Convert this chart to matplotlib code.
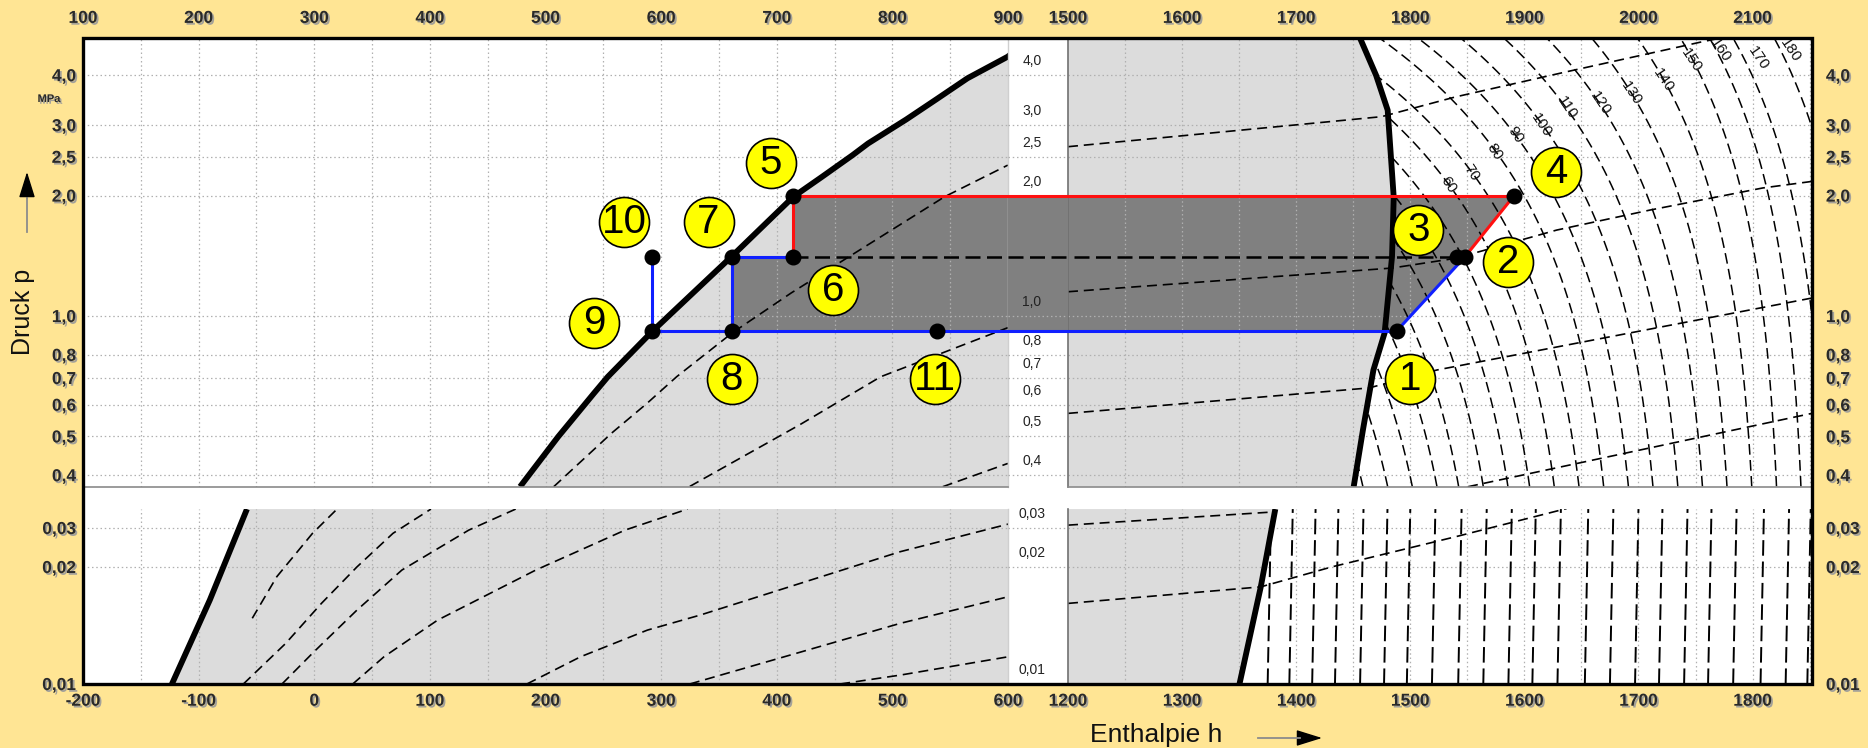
import numpy as np
import matplotlib
matplotlib.use("Agg")
import matplotlib.pyplot as plt
import matplotlib.patheffects as pe
from matplotlib.patches import Polygon, Rectangle, FancyArrowPatch

# ------------------------------------------------------------------
# data: ammonia log p-h diagram with a two-stage refrigeration cycle
# h in kJ/kg (lower scale), p in MPa
# ------------------------------------------------------------------
state_ids = ["1", "2", "3", "4", "5", "6", "7", "8", "9", "10", "11"]
state_h = [1488, 1548, 1541, 1591, 414, 414, 361, 361, 292.5, 292.5, 538.6]
state_p = [0.917, 1.407, 1.407, 2.0, 2.0, 1.407, 1.407, 0.917, 0.917, 1.407, 0.917]
label_h = [1500, 1586, 1507, 1628, 395, 449, 341, 361, 242, 268, 537]
label_p = [0.697, 1.367, 1.64, 2.295, 2.406, 1.161, 1.72, 0.697, 0.959, 1.72, 0.697]

# saturated liquid / vapour lines, upper and lower pressure range
liq_hi_h = [178, 210.9, 241.9, 253.9, 292.6, 360.8, 414.4, 439.3, 465.7, 479, 512,
            538.6, 565, 599.8, 610]
liq_hi_p = [0.3744, 0.499, 0.641, 0.705, 0.917, 1.407, 1.987, 2.23, 2.526, 2.70, 3.10,
            3.49, 3.93, 4.45, 4.7]
vap_hi_h = [1450.4, 1458.5, 1467.7, 1477.5, 1484, 1485.5, 1480.2, 1470, 1455.8]
vap_hi_p = [0.3744, 0.519, 0.733, 0.907, 1.407, 1.98, 3.27, 4.0, 4.963]
liq_lo_h = [-123.1, -90.3, -58.2]
liq_lo_p = [0.01, 0.01645, 0.0365]
vap_lo_h = [1350.3, 1369, 1381.7]
vap_lo_p = [0.01, 0.0178, 0.0365]

# lines of constant vapour quality / entropy
qual_top_left = [
    ([207.1, 257.3, 288.1, 313.4, 361.4, 412.5, 462.5, 545.2, 599.8],
     [0.3744, 0.510, 0.606, 0.705, 0.907, 1.142, 1.407, 1.987, 2.383]),
    ([324.8, 420, 489.9, 599.8], [0.375, 0.535, 0.705, 0.935]),
    ([543.6, 599.8], [0.3744, 0.428]),
]
qual_top_right = [
    ([1200, 1474.8, 1539.7, 1637.1, 1756.1, 1777.6], [2.65, 3.15, 3.53, 4.08, 4.85, 4.99]),
    ([1200, 1484, 1539.7, 1628.3, 1710, 1809, 1852], [1.15, 1.318, 1.394, 1.64, 1.84, 2.09, 2.17]),
    ([1200, 1463.8, 1523.4, 1852], [0.571, 0.661, 0.733, 1.109]),
    ([1550.6, 1852], [0.3744, 0.571]),
]
qual_bottom_left = [
    ([-53.6, -32.4, -1.5, 19.7], [0.01476, 0.01888, 0.02838, 0.0365]),
    ([-61.3, -24.7, 6.2, 37, 68.1, 100.9], [0.01, 0.01272, 0.01612, 0.02003, 0.02838, 0.0365]),
    ([-27.9, -1.5, 37, 75.8, 133.7, 174.2], [0.01, 0.012, 0.0155, 0.01964, 0.02936, 0.0365]),
    ([33.3, 60.3, 106.7, 191.6, 268.9, 322.9], [0.01, 0.01175, 0.0146, 0.01964, 0.02936, 0.0365]),
    ([183.9, 230.3, 288.1, 333.7, 506.7, 600.2], [0.01, 0.01175, 0.01376, 0.01504, 0.02344, 0.03124]),
    ([324.8, 506.7, 600.2], [0.01, 0.01432, 0.01677]),
    ([454.8, 506.7, 600.2], [0.01, 0.01054, 0.01175]),
]
qual_bottom_right = [
    ([1200, 1382.7], [0.0309, 0.0355]),
    ([1200, 1369, 1431.4, 1539.7, 1637], [0.01612, 0.01778, 0.02003, 0.02739, 0.0367]),
]

# isotherms in the superheated region (deg C): h at the lower and the upper edge
iso_T = [-20, -10, 0, 10, 20, 30, 40, 50, 60, 70, 80, 90, 100, 110, 120,
         130, 140, 150, 160, 170, 180]
iso_h_low = [1458.5, 1480.2, 1501.8, 1523.4, 1542.4, 1564, 1585.6, 1604.6, 1626.2,
             1647.9, 1669.5, 1691.2, 1712.7, 1734.5, 1756.1, 1777.6, 1799.3, 1821,
             1842.4, 1863, 1895]
iso_h_high = [1036.3, 1078.2, 1119.5, 1169.6, 1212.4, 1258.4, 1304.3, 1343, 1384.8,
              1422.6, 1472.6, 1506.3, 1543.8, 1581.7, 1619.3, 1658.7, 1698.8, 1736.6,
              1762.1, 1782.7, 1818.8]
iso_label_T = [60, 70, 80, 90, 100, 110, 120, 130, 140, 150, 160, 170, 180]
iso_label_h = [1533.3, 1553.8, 1574.2, 1591.8, 1615.2, 1637.1, 1666.3, 1694, 1721.7,
               1746.6, 1771.4, 1805, 1832.8]
iso_label_p = [2.127, 2.282, 2.575, 2.835, 3.0, 3.306, 3.402, 3.6, 3.89, 4.365,
               4.62, 4.41, 4.62]
# isotherms at low pressure (nearly vertical)
iso_lo_h = [1375, 1394, 1414, 1434, 1456, 1477, 1497, 1519, 1542, 1564, 1586, 1607,
            1629, 1653, 1675, 1697, 1718, 1740, 1761, 1783, 1807, 1829, 1848]

# axis ticks
p_ticks_hi = [0.4, 0.5, 0.6, 0.7, 0.8, 1.0, 2.0, 2.5, 3.0, 4.0]
p_ticks_lo = [0.01, 0.02, 0.03]
h_ticks_left = [-200, -100, 0, 100, 200, 300, 400, 500, 600]
h_ticks_right = [1200, 1300, 1400, 1500, 1600, 1700, 1800]
H_TOP_SHIFT = 300   # upper enthalpy scale is offset against the lower one

# ------------------------------------------------------------------
BG = "#FFE594"
LIGHT = "#DCDCDC"
DARK = "#808080"
GRIDC = "#B0B0B0"

W, H = 1868, 748
fig = plt.figure(figsize=(W / 100, H / 100), dpi=100, facecolor=BG)


def fx(px):
    return px / W


def fy(py):
    return 1 - py / H


X0, XB0, XB1, X1 = 83, 1008, 1068, 1812
Y0, YT1, YB0, Y1 = 37.7, 486.7, 509, 684

P_HI = (0.3744, 4.963)
P_LO = (0.01, 0.03653)
H_LEFT = (-200, 600)
H_RIGHT = (1200, 1852.1)

# lower pressure range uses a piecewise logarithmic axis
_lx = np.array([-3.0, -2.0, np.log10(0.02), np.log10(0.03), -0.5])
_ly = np.array([-389.0, 0.0, 117.0, 156.0, 156.0 + 222.0 * (-0.5 - np.log10(0.03))])


def lo_forward(p):
    p = np.asarray(p, dtype=float)
    return np.interp(np.log10(np.clip(p, 1e-9, None)), _lx, _ly)


def lo_inverse(y):
    return 10 ** np.interp(np.asarray(y, dtype=float), _ly, _lx)


# white plotting area
fig.add_artist(Rectangle((fx(X0), fy(Y1)), fx(X1 - X0), (Y1 - Y0) / H,
                         transform=fig.transFigure, facecolor="white",
                         edgecolor="none", zorder=-5))


def make_ax(x0, x1, y0, y1):
    ax = fig.add_axes([fx(x0), fy(y1), fx(x1 - x0), (y1 - y0) / H])
    ax.set_facecolor("none")
    for s in ax.spines.values():
        s.set_visible(False)
    ax.tick_params(length=0)
    return ax


ax_tl = make_ax(X0, XB0, Y0, YT1)
ax_tr = make_ax(XB1, X1, Y0, YT1)
ax_bl = make_ax(X0, XB0, YB0, Y1)
ax_br = make_ax(XB1, X1, YB0, Y1)
band_t = make_ax(XB0, XB1, Y0, YT1)
band_b = make_ax(XB0, XB1, YB0, Y1)

for ax in (ax_tl, ax_tr, band_t):
    ax.set_yscale("log")
    ax.set_ylim(*P_HI)
for ax in (ax_bl, ax_br, band_b):
    ax.set_yscale("function", functions=(lo_forward, lo_inverse))
    ax.set_ylim(*P_LO)
for ax in (ax_tl, ax_bl):
    ax.set_xlim(*H_LEFT)
for ax in (ax_tr, ax_br):
    ax.set_xlim(*H_RIGHT)
for ax in (band_t, band_b):
    ax.set_xlim(0, 1)
    ax.set_xticks([])
    ax.set_yticks([])
    ax.yaxis.set_minor_locator(matplotlib.ticker.NullLocator())

# panel borders at the breaks
for ax in (ax_tl, ax_tr):
    ax.spines["bottom"].set_visible(True)
    ax.spines["bottom"].set_color("#8a8a8a")
    ax.spines["bottom"].set_linewidth(1.2)
for ax in (ax_tl, ax_bl):
    ax.spines["right"].set_visible(True)
    ax.spines["right"].set_color("#cfcfcf")
    ax.spines["right"].set_linewidth(1.0)
for ax in (ax_tr, ax_br):
    ax.spines["left"].set_visible(True)
    ax.spines["left"].set_color("#707070")
    ax.spines["left"].set_linewidth(1.2)

# ---- tick labels ----------------------------------------------------
NARROW = ["Liberation Sans Narrow", "Liberation Sans", "DejaVu Sans"]
SANS = ["Liberation Sans", "DejaVu Sans"]
shadow = [pe.SimplePatchShadow(offset=(1.3, -1.3), shadow_rgbFace="#9a9a9a", alpha=0.9),
          pe.Normal()]


def fmt(v):
    if v < 0.1:
        return f"{v:.2f}".replace(".", ",")
    return f"{v:.1f}".replace(".", ",")


def style_labels(labels, size=12.5):
    for t in labels:
        t.set_fontfamily(NARROW)
        t.set_fontweight("bold")
        t.set_fontsize(size)
        t.set_color("#2a2a2a")
        t.set_path_effects(shadow)


for ax, ticks in ((ax_tl, p_ticks_hi), (ax_bl, p_ticks_lo), (ax_tr, p_ticks_hi), (ax_br, p_ticks_lo)):
    ax.set_yticks(ticks)
    ax.set_yticklabels([fmt(v) for v in ticks])
    ax.yaxis.set_minor_locator(matplotlib.ticker.NullLocator())
for ax in (ax_tl, ax_bl):
    ax.tick_params(axis="y", left=False, labelleft=True, pad=5)
    style_labels(ax.get_yticklabels())
for ax in (ax_tr, ax_br):
    ax.tick_params(axis="y", left=False, labelleft=False, labelright=True, pad=10)
    style_labels(ax.get_yticklabels())

ax_bl.set_xticks(h_ticks_left)
ax_bl.set_xticklabels([str(v) for v in h_ticks_left])
ax_br.set_xticks(h_ticks_right)
ax_br.set_xticklabels([str(v) for v in h_ticks_right])
for ax in (ax_bl, ax_br):
    ax.tick_params(axis="x", length=0, pad=7)
    style_labels(ax.get_xticklabels())
for ax in (ax_tl, ax_tr):
    ax.set_xticks([])

for ax, ticks in ((ax_tl, h_ticks_left), (ax_tr, h_ticks_right)):
    sec = ax.secondary_xaxis("top", functions=(lambda h: h + H_TOP_SHIFT,
                                              lambda h: h - H_TOP_SHIFT))
    top = [v + H_TOP_SHIFT for v in ticks]
    sec.set_xticks(top)
    sec.set_xticklabels([str(v) for v in top])
    sec.tick_params(length=0, pad=8.5)
    for s in sec.spines.values():
        s.set_visible(False)
    style_labels(sec.get_xticklabels())

# ---- grid -------------------------------------------------------------
grid_kw = dict(color=GRIDC, lw=0.9, ls=(0, (1.2, 2.2)), zorder=0.6)
for ax, lim, ticks in ((ax_tl, H_LEFT, p_ticks_hi), (ax_tr, H_RIGHT, p_ticks_hi),
                       (ax_bl, H_LEFT, p_ticks_lo), (ax_br, H_RIGHT, p_ticks_lo)):
    for hv in np.arange(np.ceil(lim[0] / 50) * 50, lim[1], 50):
        if hv > lim[0]:
            ax.axvline(hv, **grid_kw)
    for pv in ticks:
        if pv > 0.0101:
            ax.axhline(pv, **grid_kw)
for ax, ticks in ((band_t, p_ticks_hi), (band_b, p_ticks_lo)):
    for pv in ticks:
        if pv > 0.0101:
            ax.axhline(pv, **grid_kw)
        ax.annotate(fmt(pv), xy=(0.4, pv), xytext=(0, 14), textcoords="offset pixels",
                    ha="center", va="center", fontsize=10, family=SANS, color="#222222")

# ---- two-phase region -----------------------------------------------
ax_tl.add_patch(Polygon(list(zip(liq_hi_h, liq_hi_p)) + [(700, liq_hi_p[-1]), (700, 0.3)],
                        closed=True, facecolor=LIGHT, edgecolor="none", zorder=0.3))
ax_bl.add_patch(Polygon(list(zip(liq_lo_h, liq_lo_p)) + [(700, liq_lo_p[-1]), (700, 0.009)],
                        closed=True, facecolor=LIGHT, edgecolor="none", zorder=0.3))
ax_tr.add_patch(Polygon([(1100, vap_hi_p[0])] + list(zip(vap_hi_h, vap_hi_p)) + [(1100, vap_hi_p[-1])],
                        closed=True, facecolor=LIGHT, edgecolor="none", zorder=0.3))
ax_br.add_patch(Polygon([(1100, vap_lo_p[0])] + list(zip(vap_lo_h, vap_lo_p)) + [(1100, vap_lo_p[-1])],
                        closed=True, facecolor=LIGHT, edgecolor="none", zorder=0.3))

# ---- cycle area ---------------------------------------------------------
S = {k: (h, p) for k, h, p in zip(state_ids, state_h, state_p)}
cycle_poly = [S["5"], S["4"], S["2"], S["1"], S["8"], S["7"], S["6"]]
for ax in (ax_tl, ax_tr):
    ax.add_patch(Polygon(cycle_poly, closed=True, facecolor=DARK, edgecolor="none", zorder=0.4))
band_t.fill_between([0, 1], S["8"][1], S["5"][1], color=DARK, lw=0, zorder=0.4)

# ---- dashed helper lines ----------------------------------------------
q_kw = dict(color="black", lw=1.2, ls=(0, (6, 3.5)), zorder=1)
for ax, lines in ((ax_tl, qual_top_left), (ax_tr, qual_top_right),
                  (ax_bl, qual_bottom_left), (ax_br, qual_bottom_right)):
    for hh, pp in lines:
        ax.plot(hh, pp, **q_kw)

# superheated region used to clip the isotherms
sup_hi = Polygon(list(zip(vap_hi_h, vap_hi_p)) + [(2000, vap_hi_p[-1]), (2000, vap_hi_p[0])],
                 closed=True, transform=ax_tr.transData, facecolor="none", edgecolor="none")
sup_lo = Polygon(list(zip(vap_lo_h, vap_lo_p)) + [(2000, vap_lo_p[-1]), (2000, vap_lo_p[0])],
                 closed=True, transform=ax_br.transData, facecolor="none", edgecolor="none")
ax_tr.add_patch(sup_hi)
ax_br.add_patch(sup_lo)

iso_kw = dict(color="black", lw=1.1, ls=(0, (7, 3.5)), zorder=1)
p_grid = np.geomspace(P_HI[0], P_HI[1], 120)
for hl, hh in zip(iso_h_low, iso_h_high):
    # enthalpy falls off linearly with pressure along an isotherm
    h_line = hl + (hh - hl) * (p_grid - P_HI[0]) / (P_HI[1] - P_HI[0])
    ln, = ax_tr.plot(h_line, p_grid, **iso_kw)
    ln.set_clip_path(sup_hi)
for t, hx, px in zip(iso_label_T, iso_label_h, iso_label_p):
    ax_tr.text(hx, px, str(t), rotation=-56, ha="center", va="center",
               fontsize=11, family=SANS, color="#111111", zorder=1.5)

iso_lo_kw = dict(color="black", lw=1.4, ls=(0, (8, 3)), zorder=1)
for hv in iso_lo_h:
    ln, = ax_br.plot([hv, hv + 3], [P_LO[0], P_LO[1]], **iso_lo_kw)
    ln.set_clip_path(sup_lo)

# ---- saturation lines ---------------------------------------------------
sat_kw = dict(color="black", lw=4.2, solid_capstyle="butt", solid_joinstyle="round", zorder=2)
ax_tl.plot(liq_hi_h, liq_hi_p, **sat_kw)
ax_bl.plot(liq_lo_h, liq_lo_p, **sat_kw)
ax_tr.plot(vap_hi_h, vap_hi_p, **sat_kw)
ax_br.plot(vap_lo_h, vap_lo_p, **sat_kw)

# ---- cycle lines ------------------------------------------------------
RED, BLUE = "#FF1010", "#1020FF"
seg_red = [("5", "4"), ("4", "2"), ("5", "6")]
seg_blue = [("9", "1"), ("1", "2"), ("9", "10"), ("8", "7"), ("7", "6")]
for ax in (ax_tl, ax_tr):
    for a, b in seg_red:
        ax.plot([S[a][0], S[b][0]], [S[a][1], S[b][1]], color=RED, lw=2.2, zorder=3)
    for a, b in seg_blue:
        ax.plot([S[a][0], S[b][0]], [S[a][1], S[b][1]], color=BLUE, lw=2.2, zorder=3)
    ax.plot([S["6"][0], S["3"][0]], [S["6"][1], S["3"][1]], color="black", lw=1.8,
            ls=(0, (6, 2.6)), zorder=2.5)
band_t.plot([0, 1], [S["5"][1]] * 2, color=RED, lw=2.2, zorder=3)
band_t.plot([0, 1], [S["8"][1]] * 2, color=BLUE, lw=2.2, zorder=3)
band_t.plot([0, 1], [S["6"][1]] * 2, color="black", lw=1.8, ls=(0, (6, 2.6)), zorder=2.5)

# ---- state points and their numbers -----------------------------------
for k, h, p, lh, lp in zip(state_ids, state_h, state_p, label_h, label_p):
    ax = ax_tr if h > 1000 else ax_tl
    ax.plot(h, p, "o", ms=10.5, color="black", zorder=4)
    ax.plot(lh, lp, "o", ms=36, mfc="#FFFF00", mec="black", mew=1.2, zorder=5, clip_on=False)
    ax.text(lh, lp, k, ha="center", va="center", fontsize=29, family=NARROW,
            color="black", zorder=6)

# ---- frame and axis titles ---------------------------------------------
fig.add_artist(Rectangle((fx(X0), fy(Y1)), fx(X1 - X0), (Y1 - Y0) / H,
                         transform=fig.transFigure, fill=False, edgecolor="black",
                         lw=2.4, zorder=20))

fig.text(fx(23), fy(312), "Druck p", rotation=90, ha="center", va="center",
         fontsize=18, family=SANS, color="#111111")
fig.text(fx(49), fy(99), "MPa", ha="center", va="center", fontsize=8,
         family=NARROW, fontweight="bold", color="#2a2a2a", path_effects=shadow)
fig.text(fx(1156), fy(735), "Enthalpie h", ha="center", va="center",
         fontsize=19, family=SANS, color="#111111")


def arrow(x0, y0, x1, y1, xh, yh):
    # grey shaft with a black head
    fig.add_artist(matplotlib.lines.Line2D([fx(x0), fx(xh)], [fy(y0), fy(yh)],
                                           transform=fig.transFigure, color="#8c8c8c", lw=1.3))
    fig.add_artist(FancyArrowPatch((fx(xh), fy(yh)), (fx(x1), fy(y1)),
                                   transform=fig.transFigure,
                                   arrowstyle="-|>,head_length=16,head_width=5",
                                   color="black", lw=1.0, mutation_scale=1,
                                   shrinkA=0, shrinkB=0))


arrow(27, 232, 27, 172, 27, 198)
arrow(1258, 738, 1322, 738, 1300, 738)

fig.savefig("out.png", dpi=100, facecolor=BG)
